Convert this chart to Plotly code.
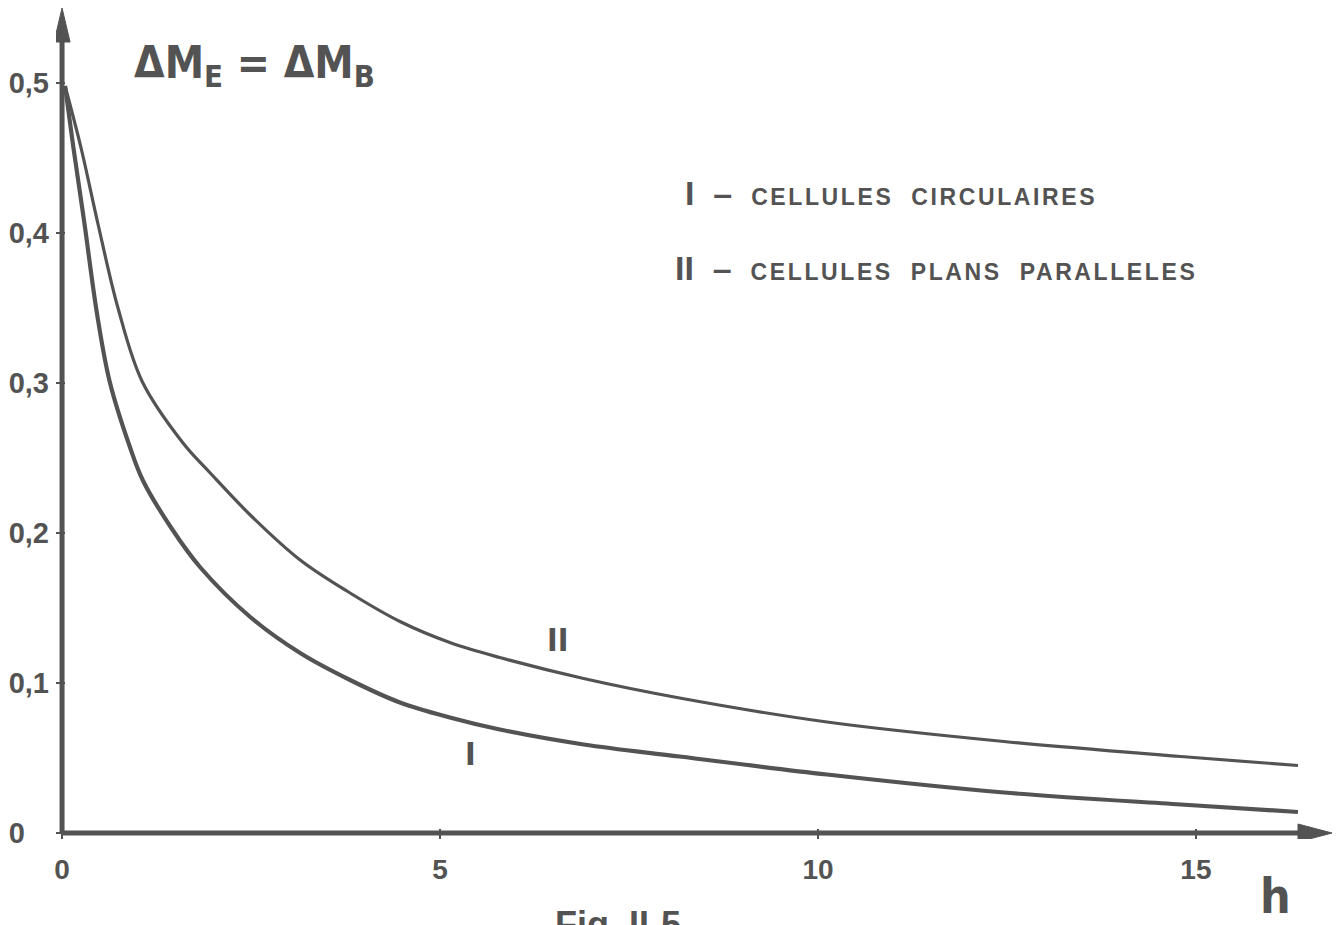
import plotly.graph_objects as go

# h values and curve ordinates (I: circular cells, II: parallel-plate cells)
h_I = [0.04, 0.15, 0.30, 0.46, 0.63, 0.90, 1.07, 1.45, 1.83, 2.49, 3.15, 3.81,
       4.47, 5.13, 5.79, 6.90, 8.17, 10.12, 12.46, 14.80, 16.35]
dm_I = [0.498, 0.457, 0.405, 0.347, 0.301, 0.257, 0.235, 0.203, 0.177, 0.144, 0.120, 0.102,
        0.087, 0.077, 0.069, 0.059, 0.051, 0.039, 0.027, 0.019, 0.014]

h_II = [0.04, 0.25, 0.48, 0.74, 1.06, 1.60, 1.96, 2.49, 3.15, 3.81, 4.47,
        5.13, 5.79, 6.90, 8.17, 10.12, 12.46, 14.80, 16.35]
dm_II = [0.498, 0.457, 0.405, 0.350, 0.301, 0.260, 0.240, 0.212, 0.182, 0.160, 0.141,
         0.127, 0.117, 0.103, 0.090, 0.074, 0.061, 0.051, 0.045]

x_ticks = [0, 5, 10, 15]
x_tick_text = ["0", "5", "10", "15"]
y_ticks = [0, 0.1, 0.2, 0.3, 0.4, 0.5]
y_tick_text = ["0\u00a0\u00a0\u00a0", "0,1", "0,2", "0,3", "0,4", "0,5"]

X_MIN, X_MAX = -0.08, 16.8
Y_MIN, Y_MAX = -0.004, 0.55
INK = "#535353"
BOLD = "Liberation Sans, Arial, sans-serif"
NARROW = "DejaVu Sans Condensed, Liberation Sans Narrow, Roboto Condensed, Roboto, sans-serif"

fig = go.Figure()
fig.add_trace(go.Scatter(x=h_I, y=dm_I, mode="lines",
                         line=dict(color=INK, width=4.2, shape="spline", smoothing=1.0),
                         hoverinfo="skip", showlegend=False))
fig.add_trace(go.Scatter(x=h_II, y=dm_II, mode="lines",
                         line=dict(color=INK, width=3.2, shape="spline", smoothing=1.0),
                         hoverinfo="skip", showlegend=False))

# axis lines with arrowheads
fig.add_shape(type="line", x0=0, y0=0, x1=X_MAX - 0.2, y1=0, xref="x", yref="y",
              line=dict(color=INK, width=5))
fig.add_shape(type="line", x0=0, y0=0, x1=0, y1=Y_MAX - 0.01, xref="x", yref="y",
              line=dict(color=INK, width=5))
fig.add_shape(type="path", xref="x", yref="y", xsizemode="pixel", ysizemode="pixel",
              xanchor=X_MAX, yanchor=0, path="M0,0 L-34,-9 L-34,9 Z",
              fillcolor=INK, line=dict(color=INK, width=1))
fig.add_shape(type="path", xref="x", yref="y", xsizemode="pixel", ysizemode="pixel",
              xanchor=0, yanchor=Y_MAX, path="M0,0 L-8,-34 L8,-34 Z",
              fillcolor=INK, line=dict(color=INK, width=1))


def note(text, x, y, size, family=BOLD, xanchor="center", yanchor="middle",
         weight="bold", yref="y"):
    fig.add_annotation(x=x, y=y, xref="x", yref=yref, text=text,
                       showarrow=False, xanchor=xanchor, yanchor=yanchor,
                       font=dict(family=family, size=size, color=INK, weight=weight))


note("ΔM<sub>E</sub> = ΔM<sub>B</sub>", 0.93, 0.512, 44, family=NARROW, xanchor="left")

spaced = "font-size:23px;letter-spacing:2.6px"
note(f"I  –  <span style='{spaced}'>CELLULES  CIRCULAIRES</span>",
     8.22, 0.427, 34, xanchor="left")
note(f"II  –  <span style='{spaced}'>CELLULES  PLANS  PARALLELES</span>",
     8.08, 0.377, 34, xanchor="left")

note("II", 6.55, 0.129, 32, family=NARROW)
note("I", 5.40, 0.053, 32, family=NARROW)

# labels below the plot area, placed in paper units
note("h", 16.05, -0.069, 48, family=NARROW, yref="paper")
note("Fig. II-5", 7.35, -0.076, 36, yanchor="top", yref="paper")

fig.update_xaxes(range=[X_MIN, X_MAX], tickvals=x_ticks, ticktext=x_tick_text,
                 ticks="inside", ticklen=10, tickwidth=2, tickcolor=INK,
                 showgrid=False, zeroline=False, showline=False,
                 ticklabelstandoff=11,
                 tickfont=dict(family=BOLD, size=28, color=INK, weight="bold"))
fig.update_yaxes(range=[Y_MIN, Y_MAX], tickvals=y_ticks, ticktext=y_tick_text,
                 ticks="inside", ticklen=9, tickwidth=2, tickcolor=INK,
                 showgrid=False, zeroline=False, showline=False,
                 ticklabelstandoff=6,
                 tickfont=dict(family=BOLD, size=29, color=INK, weight="bold"))

fig.update_layout(width=1339, height=925,
                  margin=dict(l=56, r=7, t=8, b=86),
                  paper_bgcolor="white", plot_bgcolor="white")

fig.write_html("out.html")
